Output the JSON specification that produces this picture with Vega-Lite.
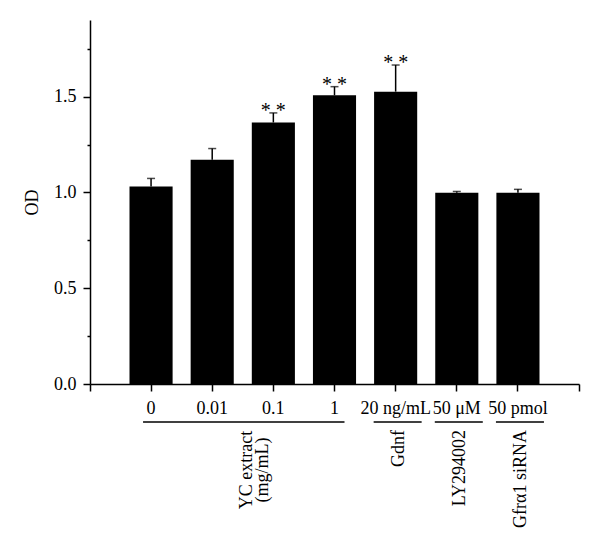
{
  "$schema": "https://vega.github.io/schema/vega-lite/v6.json",
  "autosize": "none",
  "padding": {"left": 90, "top": 20, "right": 21, "bottom": 171},
  "width": 489,
  "height": 364,
  "background": "white",
  "datasets": {
    "bars": [
      {"cat": "0", "od": 1.031, "upper": 1.073, "sig": ""},
      {"cat": "0.01", "od": 1.170, "upper": 1.229, "sig": ""},
      {"cat": "0.1", "od": 1.365, "upper": 1.415, "sig": "* *"},
      {"cat": "1", "od": 1.507, "upper": 1.552, "sig": "* *"},
      {"cat": "20 ng/mL", "od": 1.526, "upper": 1.665, "sig": "* *"},
      {"cat": "50 μM", "od": 0.998, "upper": 1.005, "sig": ""},
      {"cat": "50 pmol", "od": 0.998, "upper": 1.016, "sig": ""}
    ],
    "groups": [
      {"g": "YC", "label": ["YC extract", "(mg/mL)"], "from": "0", "to": "1", "at": "0.1"},
      {"g": "Gdnf", "label": "Gdnf", "from": "20 ng/mL", "to": "20 ng/mL", "at": "20 ng/mL"},
      {"g": "LY", "label": "LY294002", "from": "50 μM", "to": "50 μM", "at": "50 μM"},
      {"g": "Gfr", "label": "Gfrα1 siRNA", "from": "50 pmol", "to": "50 pmol", "at": "50 pmol"}
    ]
  },
  "config": {
    "view": {"stroke": null},
    "font": "Liberation Serif",
    "axis": {
      "labelFont": "Liberation Serif",
      "titleFont": "Liberation Serif",
      "labelFontSize": 18,
      "titleFontSize": 18,
      "titleFontWeight": "normal",
      "labelColor": "black",
      "titleColor": "black",
      "domainColor": "black",
      "tickColor": "black",
      "domainWidth": 1.5,
      "tickWidth": 1.5,
      "grid": false
    }
  },
  "resolve": {
    "scale": {"x": "independent", "y": "independent"},
    "axis": {"x": "independent", "y": "independent"}
  },
  "layer": [
    {
      "layer": [
        {
          "data": {"name": "bars"},
          "mark": {"type": "bar", "color": "black"},
          "encoding": {
            "x": {
              "field": "cat", "type": "nominal", "sort": null,
              "scale": {"domain": ["0", "0.01", "0.1", "1", "20 ng/mL", "50 μM", "50 pmol"], "paddingInner": 0.295, "paddingOuter": 0.646},
              "axis": {"orient": "bottom", "labelAngle": 0, "tickSize": 7, "labelPadding": 8, "labelOverlap": false, "title": null}
            },
            "y": {
              "field": "od", "type": "quantitative",
              "scale": {"domain": [0, 1.9], "nice": false},
              "axis": {"orient": "left", "values": [0, 0.5, 1, 1.5], "format": ".1f", "tickSize": 7, "labelPadding": 7, "title": "OD", "titlePadding": 12}
            }
          }
        },
        {
          "data": {"name": "bars"},
          "mark": {"type": "rule", "color": "black", "strokeWidth": 1.5},
          "encoding": {
            "x": {"field": "cat", "type": "nominal", "sort": null, "title": null},
            "y": {"field": "od", "type": "quantitative", "title": "OD"},
            "y2": {"field": "upper"}
          }
        },
        {
          "data": {"name": "bars"},
          "mark": {"type": "tick", "color": "black", "size": 8, "thickness": 1.5, "orient": "horizontal"},
          "encoding": {
            "x": {"field": "cat", "type": "nominal", "sort": null, "title": null},
            "y": {"field": "upper", "type": "quantitative", "title": "OD"}
          }
        },
        {
          "data": {"name": "bars"},
          "mark": {"type": "text", "color": "black", "fontSize": 20, "baseline": "alphabetic", "dy": 4},
          "encoding": {
            "x": {"field": "cat", "type": "nominal", "sort": null, "title": null},
            "y": {"field": "upper", "type": "quantitative", "title": "OD"},
            "text": {"field": "sig"}
          }
        },
        {
          "data": {"name": "groups"},
          "transform": [{"filter": "datum.g === 'YC'"}],
          "mark": {"type": "rule", "color": "black", "strokeWidth": 1.5, "yOffset": 38, "xOffset": -8, "x2Offset": 10},
          "encoding": {
            "x": {"field": "from", "type": "nominal", "bandPosition": 0.5, "title": null},
            "x2": {"field": "to", "bandPosition": 0.5},
            "y": {"datum": 0, "type": "quantitative", "title": "OD"}
          }
        },
        {
          "data": {"name": "groups"},
          "transform": [{"filter": "datum.g !== 'YC'"}],
          "mark": {"type": "rule", "color": "black", "strokeWidth": 1.5, "yOffset": 38, "xOffset": -22, "x2Offset": 26},
          "encoding": {
            "x": {"field": "from", "type": "nominal", "bandPosition": 0.5, "title": null},
            "x2": {"field": "to", "bandPosition": 0.5},
            "y": {"datum": 0, "type": "quantitative", "title": "OD"}
          }
        },
        {
          "data": {"name": "groups"},
          "transform": [{"filter": "datum.g === 'YC'"}],
          "mark": {"type": "text", "color": "black", "fontSize": 18, "angle": 270, "align": "center", "baseline": "middle", "lineHeight": 16, "yOffset": 86, "xOffset": -26},
          "encoding": {
            "x": {"field": "at", "type": "nominal", "title": null},
            "y": {"datum": 0, "type": "quantitative", "title": "OD"},
            "text": {"field": "label"}
          }
        },
        {
          "data": {"name": "groups"},
          "transform": [{"filter": "datum.g !== 'YC'"}],
          "mark": {"type": "text", "color": "black", "fontSize": 18, "angle": 270, "align": "right", "baseline": "middle", "yOffset": 46, "xOffset": 3},
          "encoding": {
            "x": {"field": "at", "type": "nominal", "title": null},
            "y": {"datum": 0, "type": "quantitative", "title": "OD"},
            "text": {"field": "label"}
          }
        }
      ]
    },
    {
      "data": {"values": [{}]},
      "mark": {"type": "rule", "opacity": 0},
      "encoding": {
        "x": {
          "datum": 0, "type": "quantitative",
          "scale": {"domain": [0, 8], "nice": false},
          "axis": {"orient": "bottom", "values": [0, 8], "tickSize": 7, "labels": false, "domain": false, "title": null}
        },
        "y": {
          "datum": 0, "type": "quantitative",
          "scale": {"domain": [0, 1.9], "nice": false},
          "axis": {"orient": "left", "values": [0.25, 0.75, 1.25, 1.75], "tickSize": 3, "labels": false, "domain": false, "title": null}
        }
      }
    }
  ]
}
